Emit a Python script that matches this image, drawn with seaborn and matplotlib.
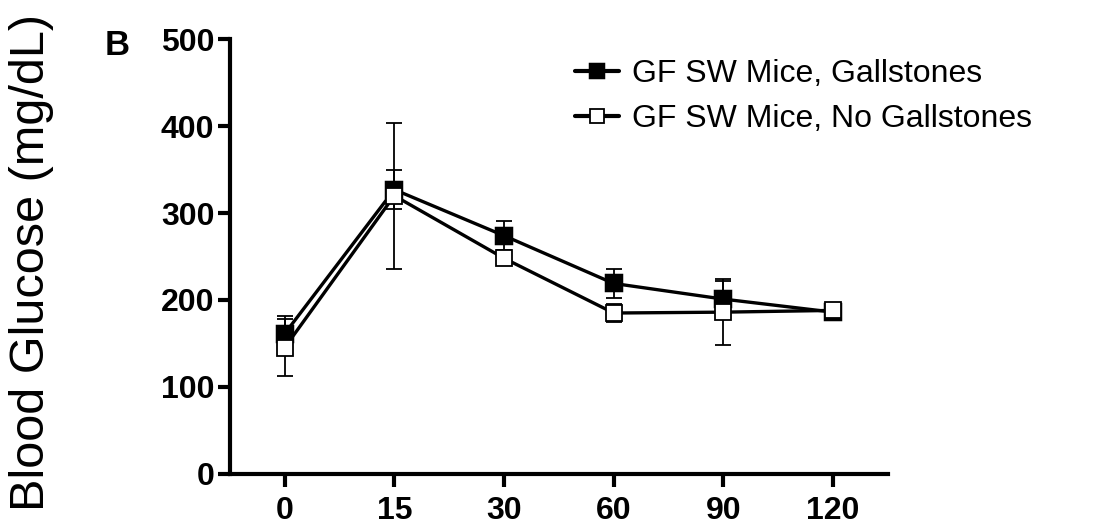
import pandas as pd
import seaborn as sns
import matplotlib.pyplot as plt
import numpy as np

# time points (min) and glucose values
times = ['0', '15', '30', '60', '90', '120']
gall_mean = [161, 327, 274, 219, 201, 186]
gall_sem = [20, 22, 17, 17, 21, 8]
nogall_mean = [145, 320, 248, 185, 186, 188]
nogall_sem = [33, 84, 8, 10, 38, 6]
labels = ['GF SW Mice, Gallstones', 'GF SW Mice, No Gallstones']

gall = pd.DataFrame({'time': times, 'glucose': gall_mean})
nogall = pd.DataFrame({'time': times, 'glucose': nogall_mean})

sns.set_style("ticks")
plt.rcParams['font.family'] = ['Liberation Sans', 'DejaVu Sans']
plt.rcParams['text.color'] = 'black'

fig = plt.figure(figsize=(10.99, 5.30), dpi=100)
ax = fig.add_axes([0.209, 0.106, 0.599, 0.820])

pos = np.arange(len(times))
# error bars first, markers on top
ax.errorbar(pos, gall_mean, yerr=gall_sem, fmt='none', ecolor='black',
            elinewidth=1.3, capsize=6, capthick=1.3, zorder=1)
ax.errorbar(pos, nogall_mean, yerr=nogall_sem, fmt='none', ecolor='black',
            elinewidth=1.3, capsize=6, capthick=1.3, zorder=1)

sns.pointplot(data=gall, x='time', y='glucose', order=times, color='black',
              markers='s', markersize=12, linewidth=2.4, errorbar=None,
              label=labels[0], ax=ax, zorder=3,
              markerfacecolor='black', markeredgecolor='black')
sns.pointplot(data=nogall, x='time', y='glucose', order=times, color='black',
              markers='s', markersize=12, linewidth=2.4, errorbar=None,
              label=labels[1], ax=ax, zorder=4,
              markerfacecolor='white', markeredgecolor='black',
              markeredgewidth=1.3)

ax.set_xlim(-0.5, 5.5)
ax.set_ylim(0, 500)
ax.set_yticks([0, 100, 200, 300, 400, 500])
ax.set_xlabel('')
ax.set_ylabel('')
sns.despine(ax=ax)
for s in ['left', 'bottom']:
    ax.spines[s].set_linewidth(3)
    ax.spines[s].set_color('black')
ax.tick_params(axis='both', width=3, length=9, labelsize=23, colors='black')
ax.tick_params(axis='x', pad=7)
ax.tick_params(axis='y', pad=2)
for t in ax.get_xticklabels() + ax.get_yticklabels():
    t.set_fontweight('bold')

leg = ax.legend(frameon=False, fontsize=23, loc='upper left',
                bbox_to_anchor=(0.523, 0.888), bbox_transform=fig.transFigure,
                borderpad=0, borderaxespad=0, handlelength=1.4,
                handletextpad=0.4, labelspacing=0.45, markerscale=0.85)
for txt in leg.get_texts():
    txt.set_color('black')
for ln in leg.get_lines():
    ln.set_linewidth(3)

fig.text(0.029, 0.505, 'Blood Glucose (mg/dL)', rotation=90, fontsize=35,
         ha='center', va='center', color='black')
fig.text(0.107, 0.915, 'B', fontsize=25, fontweight='bold',
         ha='center', va='center', color='black')

fig.savefig('out.png', dpi=100)
